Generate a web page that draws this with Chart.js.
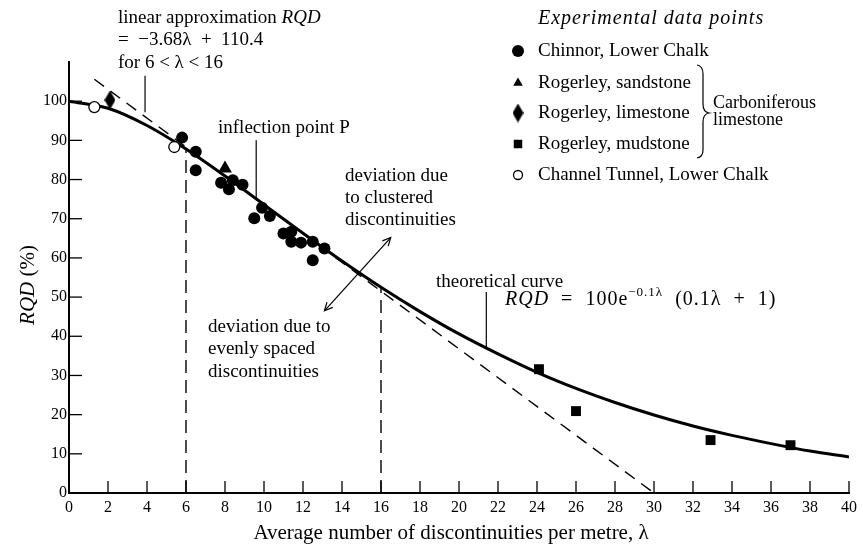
<!DOCTYPE html>
<html>
<head>
<meta charset="utf-8">
<script src="https://cdn.jsdelivr.net/npm/chart.js@4"></script>
<style>
  html, body { margin: 0; padding: 0; background: #fff; }
</style>
</head>
<body>
<canvas id="rqdChart" width="863" height="548"></canvas>
<script>
// tick labels
const xTickValues = [0, 2, 4, 6, 8, 10, 12, 14, 16, 18, 20, 22, 24, 26, 28, 30, 32, 34, 36, 38, 40];
const yTickValues = [0, 10, 20, 30, 40, 50, 60, 70, 80, 90, 100];

// theoretical curve
const curveLambda = [0, 2, 4, 6, 8, 10, 12, 14, 16, 18, 20, 22, 24, 26, 28, 30, 32, 34, 36, 38, 40];
const curveRQD = [100, 98.2, 93.8, 87.8, 80.9, 73.6, 66.3, 59.2, 52.5, 46.3, 40.6, 35.5, 30.8, 26.7, 23.1, 19.9, 17.1, 14.7, 12.6, 10.7, 9.2];

// linear approximation (dashed)
const linearLambda = [1.3, 30];
const linearRQD = [105.6, 0];

// vertical dashed lines at lambda = 6 and 16
const boundLambda = [6, 16];
const boundRQD = [87.8, 52.5];

// experimental points
const chinnorLambda = [5.8, 6.5, 6.5, 7.8, 8.2, 8.4, 8.9, 9.5, 9.9, 10.3, 11.0, 11.4, 11.4, 11.9, 12.5, 12.5, 13.1];
const chinnorRQD = [90.7, 87.1, 82.4, 79.2, 77.5, 79.8, 78.7, 70.1, 72.8, 70.7, 66.2, 66.7, 64.1, 63.9, 64.1, 59.4, 62.4];
const sandstoneLambda = [8.0];
const sandstoneRQD = [82.8];
const limestoneLambda = [2.1];
const limestoneRQD = [100.3];
const mudstoneLambda = [24.1, 26.0, 32.9, 37.0];
const mudstoneRQD = [31.6, 20.9, 13.5, 12.2];
const tunnelLambda = [1.3, 5.4];
const tunnelRQD = [98.5, 88.3];

const FONT = "'Liberation Serif', 'Times New Roman', serif";

function toXY(xs, ys) {
    return xs.map((x, i) => ({x: x, y: ys[i]}));
}

// tall diamond marker
function makeDiamond(w, h) {
    let c = document.createElement("canvas");
    c.width = w; c.height = h;
    let g = c.getContext("2d");
    g.fillStyle = "#000";
    g.beginPath();
    g.moveTo(w / 2, 0);
    g.lineTo(w, h / 2);
    g.lineTo(w / 2, h);
    g.lineTo(0, h / 2);
    g.closePath();
    g.fill();
    return c;
}
const diamond = makeDiamond(11, 19);

function drawRich(ctx, parts, x, y, size, spacing) {
    let cx = x;
    ctx.letterSpacing = (spacing || 0) + "px";
    parts.forEach(p => {
        let s = p.sup ? Math.round(size * 0.65) : size;
        ctx.font = (p.italic ? "italic " : "") + s + "px " + FONT;
        ctx.fillText(p.t, cx, p.sup ? y - size * 0.38 : y);
        cx += ctx.measureText(p.t).width;
    });
    ctx.letterSpacing = "0px";
}

function drawMarker(ctx, style, x, y) {
    ctx.save();
    ctx.fillStyle = style.fill;
    ctx.strokeStyle = "#000";
    ctx.lineWidth = style.borderWidth;
    if (Chart.helpers && Chart.helpers.drawPoint) {
        Chart.helpers.drawPoint(ctx, style, x, y);
    } else {
        ctx.beginPath();
        ctx.arc(x, y, style.radius, 0, Math.PI * 2);
        ctx.fill();
        ctx.stroke();
    }
    ctx.restore();
}

const annotations = {
    id: "annotations",
    beforeDatasetsDraw(chart) {
        const ctx = chart.ctx;
        const xs = chart.scales.x, ys = chart.scales.y;
        ctx.save();
        ctx.strokeStyle = "#000";
        ctx.lineWidth = 1.3;
        // inward tick marks
        xTickValues.forEach(v => {
            if (v === 0) return;
            let px = xs.getPixelForValue(v);
            ctx.beginPath();
            ctx.moveTo(px, ys.bottom);
            ctx.lineTo(px, ys.bottom - 12);
            ctx.stroke();
        });
        yTickValues.forEach(v => {
            if (v === 0) return;
            let py = ys.getPixelForValue(v);
            ctx.beginPath();
            ctx.moveTo(xs.left, py);
            ctx.lineTo(xs.left + 13, py);
            ctx.stroke();
        });
        ctx.restore();
    },
    afterDatasetsDraw(chart) {
        const ctx = chart.ctx;
        const xs = chart.scales.x, ys = chart.scales.y;
        const P = (lx, ly) => [xs.getPixelForValue(lx), ys.getPixelForValue(ly)];
        ctx.save();
        ctx.fillStyle = "#000";
        ctx.strokeStyle = "#000";
        ctx.textBaseline = "middle";
        ctx.textAlign = "left";

        // leader lines
        ctx.lineWidth = 1.2;
        [[3.9, 106.5, 3.9, 97.2], [9.6, 90, 9.6, 75.2], [21.4, 51.3, 21.4, 37.0]].forEach(l => {
            let a = P(l[0], l[1]), b = P(l[2], l[3]);
            ctx.beginPath();
            ctx.moveTo(a[0], a[1]);
            ctx.lineTo(b[0], b[1]);
            ctx.stroke();
        });

        // double-headed arrow
        let a = P(13.1, 46.5), b = P(16.5, 65.2);
        ctx.beginPath();
        ctx.moveTo(a[0], a[1]);
        ctx.lineTo(b[0], b[1]);
        ctx.stroke();
        const head = (tip, from) => {
            let ang = Math.atan2(tip[1] - from[1], tip[0] - from[0]);
            ctx.beginPath();
            ctx.moveTo(tip[0] - 9 * Math.cos(ang - 0.45), tip[1] - 9 * Math.sin(ang - 0.45));
            ctx.lineTo(tip[0], tip[1]);
            ctx.lineTo(tip[0] - 9 * Math.cos(ang + 0.45), tip[1] - 9 * Math.sin(ang + 0.45));
            ctx.stroke();
        };
        head(a, b);
        head(b, a);

        // text annotations
        const S = 19;
        drawRich(ctx, [{t: "linear approximation "}, {t: "RQD", italic: true}], 118, 18, S);
        drawRich(ctx, [{t: "=  \u22123.68\u03bb  +  110.4"}], 118, 40, S);
        drawRich(ctx, [{t: "for 6 < \u03bb < 16"}], 118, 63, S);
        drawRich(ctx, [{t: "inflection point P"}], 218, 128, S);
        drawRich(ctx, [{t: "deviation due"}], 345, 176, S);
        drawRich(ctx, [{t: "to clustered"}], 345, 198, S);
        drawRich(ctx, [{t: "discontinuities"}], 345, 220, S);
        drawRich(ctx, [{t: "deviation due to"}], 208, 327, S);
        drawRich(ctx, [{t: "evenly spaced"}], 208, 349, S);
        drawRich(ctx, [{t: "discontinuities"}], 208, 372, S);
        drawRich(ctx, [{t: "theoretical curve"}], 436, 282, S);
        drawRich(ctx, [{t: "RQD", italic: true}, {t: "  =  100e"}, {t: "\u22120.1\u03bb", sup: true}, {t: "  (0.1\u03bb  +  1)"}], 505, 300, 20, 1);

        // legend
        drawRich(ctx, [{t: "Experimental data points", italic: true}], 538, 19, 20, 1);
        const rows = [
            {y: 51, label: "Chinnor, Lower Chalk", style: {pointStyle: "circle", radius: 6, borderWidth: 0, fill: "#000"}},
            {y: 83, label: "Rogerley, sandstone", style: {pointStyle: "triangle", radius: 5.5, borderWidth: 0, fill: "#000"}},
            {y: 113, label: "Rogerley, limestone", style: {pointStyle: diamond, radius: 6, borderWidth: 0, fill: "#000"}},
            {y: 144, label: "Rogerley, mudstone", style: {pointStyle: "rect", radius: 6, borderWidth: 0, fill: "#000"}},
            {y: 175, label: "Channel Tunnel, Lower Chalk", style: {pointStyle: "circle", radius: 4.5, borderWidth: 1.3, fill: "#fff"}}
        ];
        rows.forEach(r => {
            drawMarker(ctx, r.style, 518, r.y);
            ctx.fillStyle = "#000";
            ctx.textBaseline = "middle";
            drawRich(ctx, [{t: r.label}], 538, r.y, S);
        });

        // brace
        ctx.lineWidth = 1.2;
        ctx.beginPath();
        ctx.moveTo(697, 65);
        ctx.quadraticCurveTo(703, 66, 703, 74);
        ctx.lineTo(703, 104);
        ctx.quadraticCurveTo(703, 112, 709, 113);
        ctx.quadraticCurveTo(703, 114, 703, 122);
        ctx.lineTo(703, 150);
        ctx.quadraticCurveTo(703, 157, 697, 158);
        ctx.stroke();
        drawRich(ctx, [{t: "Carboniferous"}], 713, 103, 18);
        drawRich(ctx, [{t: "limestone"}], 713, 120, 18);

        // axis titles
        ctx.textAlign = "left";
        ctx.font = "21px " + FONT;
        let title = "Average number of discontinuities per metre, \u03bb";
        let w = ctx.measureText(title).width;
        ctx.fillText(title, (xs.left + xs.right) / 2 - w / 2 - 8, 533);

        ctx.save();
        ctx.translate(28, 285);
        ctx.rotate(-Math.PI / 2);
        ctx.font = "italic 21px " + FONT;
        let w1 = ctx.measureText("RQD").width;
        ctx.font = "21px " + FONT;
        let w2 = ctx.measureText(" (%)").width;
        drawRich(ctx, [{t: "RQD", italic: true}, {t: " (%)"}], -(w1 + w2) / 2, 0, 21);
        ctx.restore();

        ctx.restore();
    }
};

const pointCommon = {showLine: false, borderColor: "#000", backgroundColor: "#000", pointHoverRadius: 0};
const lineCommon = {showLine: true, pointRadius: 0, borderColor: "#000", backgroundColor: "#000", fill: false};

new Chart(document.getElementById("rqdChart"), {
    type: "scatter",
    data: {
        datasets: [
            Object.assign({label: "Channel Tunnel, Lower Chalk", data: toXY(tunnelLambda, tunnelRQD),
                pointStyle: "circle", pointRadius: 5.5, pointBackgroundColor: "#fff", pointBorderColor: "#000", pointBorderWidth: 1.3}, pointCommon),
            Object.assign({label: "Chinnor, Lower Chalk", data: toXY(chinnorLambda, chinnorRQD),
                pointStyle: "circle", pointRadius: 6, pointBorderWidth: 0}, pointCommon),
            Object.assign({label: "Rogerley, sandstone", data: toXY(sandstoneLambda, sandstoneRQD),
                pointStyle: "triangle", pointRadius: 8, pointBorderWidth: 0}, pointCommon),
            Object.assign({label: "Rogerley, limestone", data: toXY(limestoneLambda, limestoneRQD),
                pointStyle: diamond, pointRadius: 6, pointBorderWidth: 0}, pointCommon),
            Object.assign({label: "Rogerley, mudstone", data: toXY(mudstoneLambda, mudstoneRQD),
                pointStyle: "rect", pointRadius: 7, pointBorderWidth: 0}, pointCommon),
            Object.assign({label: "theoretical curve", data: toXY(curveLambda, curveRQD),
                borderWidth: 3, cubicInterpolationMode: "monotone"}, lineCommon),
            Object.assign({label: "linear approximation", data: toXY(linearLambda, linearRQD),
                borderWidth: 1.4, borderDash: [12, 8]}, lineCommon),
            Object.assign({label: "lambda 6", data: toXY([boundLambda[0], boundLambda[0]], [0, boundRQD[0]]),
                borderWidth: 1.4, borderDash: [13, 7]}, lineCommon),
            Object.assign({label: "lambda 16", data: toXY([boundLambda[1], boundLambda[1]], [0, boundRQD[1]]),
                borderWidth: 1.4, borderDash: [13, 7]}, lineCommon)
        ]
    },
    options: {
        responsive: false,
        animation: false,
        events: [],
        layout: {padding: {top: 62, right: 14, left: 0, bottom: 0}},
        plugins: {legend: {display: false}, tooltip: {enabled: false}},
        scales: {
            x: {
                type: "linear", min: 0, max: 40,
                grid: {display: false, drawTicks: false},
                border: {display: true, color: "#000", width: 2},
                ticks: {color: "#000", font: {family: FONT, size: 16}, padding: 5, maxRotation: 0, autoSkip: false},
                afterBuildTicks: s => { s.ticks = xTickValues.map(v => ({value: v})); },
                afterFit: s => { s.height = 55; }
            },
            y: {
                type: "linear", min: 0, max: 110,
                grid: {display: false, drawTicks: false},
                border: {display: true, color: "#000", width: 2},
                ticks: {color: "#000", font: {family: FONT, size: 16}, padding: 2, autoSkip: false},
                afterBuildTicks: s => { s.ticks = yTickValues.map(v => ({value: v})); },
                afterFit: s => { s.width = 69; }
            }
        }
    },
    plugins: [annotations]
});
</script>
</body>
</html>
